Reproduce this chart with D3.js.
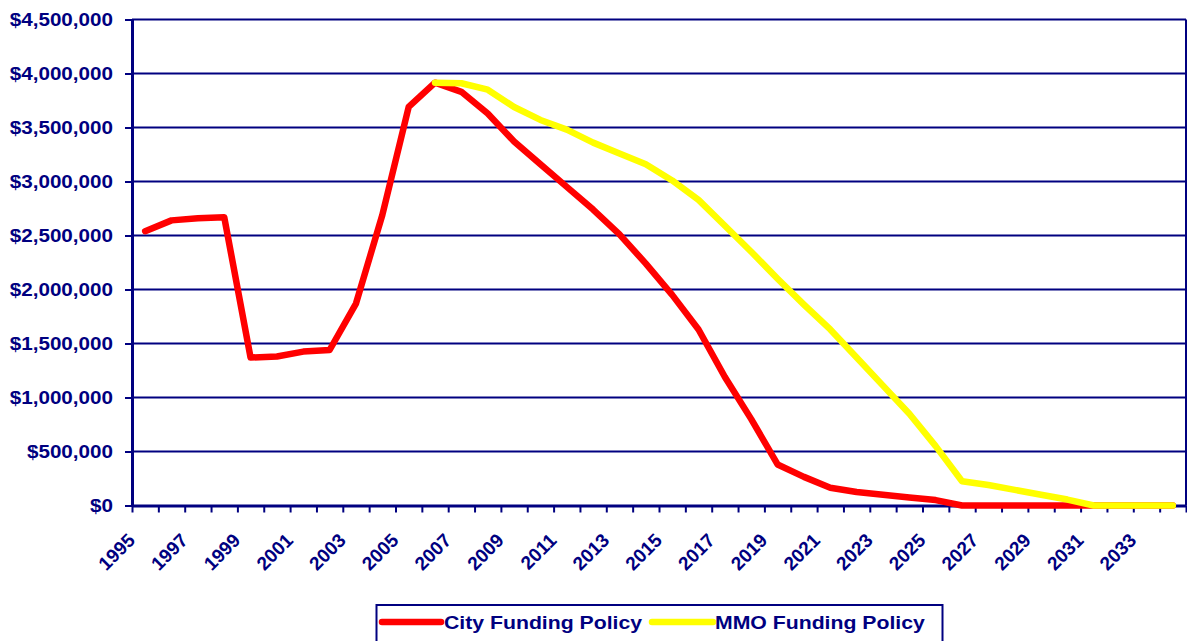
<!DOCTYPE html>
<html>
<head>
<meta charset="utf-8">
<script src="https://cdn.jsdelivr.net/npm/d3@7"></script>
<style>
  body { margin: 0; background: #fff; }
  svg { display: block; }
  text { font-family: "Liberation Sans", Arial, sans-serif; font-weight: bold; fill: #000080; }
</style>
</head>
<body>
<svg id="chart" width="1187" height="641"></svg>
<script>
// years along the x axis
var YEARS = d3.range(1995, 2035);

// City Funding Policy balance, one value per year
var CITY = [
  2540000, 2640000, 2660000, 2670000, 1370000, 1380000, 1425000, 1440000,
  1870000, 2690000, 3690000, 3915000, 3830000, 3630000, 3370000, 3160000,
  2950000, 2740000, 2510000, 2240000, 1950000, 1630000, 1190000, 800000,
  380000, 265000, 165000, 125000, 100000, 75000, 50000, 0,
  0, 0, 0, 0, 0, 0, 0, 0
];

// MMO Funding Policy balance, starts in 2006
var MMO = [
  null, null, null, null, null, null, null, null,
  null, null, null, 3915000, 3910000, 3850000, 3690000, 3570000,
  3480000, 3360000, 3260000, 3160000, 3010000, 2830000, 2590000, 2350000,
  2100000, 1860000, 1630000, 1370000, 1110000, 850000, 550000, 225000,
  190000, 145000, 100000, 55000, 0, 0, 0, 0
];

var Y_TICKS = d3.range(0, 4500001, 500000);
var LABEL_YEARS = YEARS.filter(function(y) { return (y - 1995) % 2 === 0; });

var SERIES = [
  ['City Funding Policy', CITY, '#ff0000'],
  ['MMO Funding Policy', MMO, '#ffff00']
];

var NAVY = '#000080';
var STRETCH = 1.18;   // the source text is a bit wider than normal

var svg = d3.select('#chart');
var plotLeft = 132, plotRight = 1186, plotTop = 19.5, plotBottom = 505.5;

var x = d3.scaleBand().domain(YEARS).range([plotLeft, plotRight]);
var xIdx = d3.scaleLinear().domain([0, YEARS.length]).range([plotLeft, plotRight]);
var y = d3.scaleLinear().domain([0, 4500000]).range([plotBottom, plotTop]);

var cx = function(year) { return x(year) + x.bandwidth() / 2; };

// horizontal gridlines
svg.append('g').selectAll('line').data(Y_TICKS.slice(1))
  .enter().append('line')
  .attr('x1', plotLeft).attr('x2', plotRight)
  .attr('y1', function(d) { return y(d); })
  .attr('y2', function(d) { return y(d); })
  .attr('stroke', NAVY).attr('stroke-width', 2);

// right border of the plot
svg.append('line')
  .attr('x1', plotRight).attr('x2', plotRight)
  .attr('y1', plotTop).attr('y2', plotBottom)
  .attr('stroke', NAVY).attr('stroke-width', 2);

// y axis
var yAxis = svg.append('g')
  .attr('transform', 'translate(' + plotLeft + ',0)')
  .call(d3.axisLeft(y).tickValues(Y_TICKS).tickSize(7).tickSizeOuter(0)
    .tickFormat(function(d) { return '$' + d3.format(',')(d); }));
yAxis.select('.domain').attr('stroke', NAVY).attr('stroke-width', 3);
yAxis.selectAll('.tick line').attr('stroke', NAVY).attr('stroke-width', 2);
yAxis.selectAll('.tick text')
  .attr('x', 0)
  .attr('transform', 'translate(-19,0) scale(' + STRETCH + ',1)')
  .style('font-size', '17.5px')
  .attr('fill', NAVY);

// x axis, ticks sit between the years
var xAxis = svg.append('g')
  .attr('transform', 'translate(0,' + plotBottom + ')')
  .call(d3.axisBottom(xIdx).tickValues(d3.range(0, YEARS.length + 1))
    .tickSize(7).tickSizeOuter(0).tickFormat(''));
xAxis.select('.domain').attr('stroke', NAVY).attr('stroke-width', 3);
xAxis.selectAll('.tick line').attr('stroke', NAVY).attr('stroke-width', 2);

svg.append('g').selectAll('text').data(LABEL_YEARS)
  .enter().append('text')
  .attr('transform', function(d) {
    return 'translate(' + (cx(d) - 9) + ',' + (plotBottom + 36) + ') rotate(-45)';
  })
  .attr('text-anchor', 'end')
  .style('font-size', '19px')
  .text(function(d) { return d; });

// the two lines
var line = d3.line()
  .defined(function(d) { return d[1] !== null; })
  .x(function(d) { return cx(d[0]); })
  .y(function(d) { return y(d[1]); });

SERIES.forEach(function(s) {
  svg.append('path')
    .datum(YEARS.map(function(yr, i) { return [yr, s[1][i]]; }))
    .attr('d', line)
    .attr('fill', 'none')
    .attr('stroke', s[2])
    .attr('stroke-width', 6.5)
    .attr('stroke-linejoin', 'round')
    .attr('stroke-linecap', 'round');
});

// legend
var legend = svg.append('g');
legend.append('rect')
  .attr('x', 376.5).attr('y', 605).attr('width', 566).attr('height', 60)
  .attr('fill', 'none').attr('stroke', NAVY).attr('stroke-width', 2);

var LEGEND_X = [[382, 441, 444], [652, 713, 715]];
SERIES.forEach(function(s, i) {
  var p = LEGEND_X[i];
  legend.append('line')
    .attr('x1', p[0]).attr('x2', p[1]).attr('y1', 622).attr('y2', 622)
    .attr('stroke', s[2]).attr('stroke-width', 6.5)
    .attr('stroke-linecap', 'round');
  legend.append('text')
    .attr('transform', 'translate(' + p[2] + ',629) scale(' + STRETCH + ',1)')
    .style('font-size', '18px')
    .text(s[0]);
});
</script>
</body>
</html>
